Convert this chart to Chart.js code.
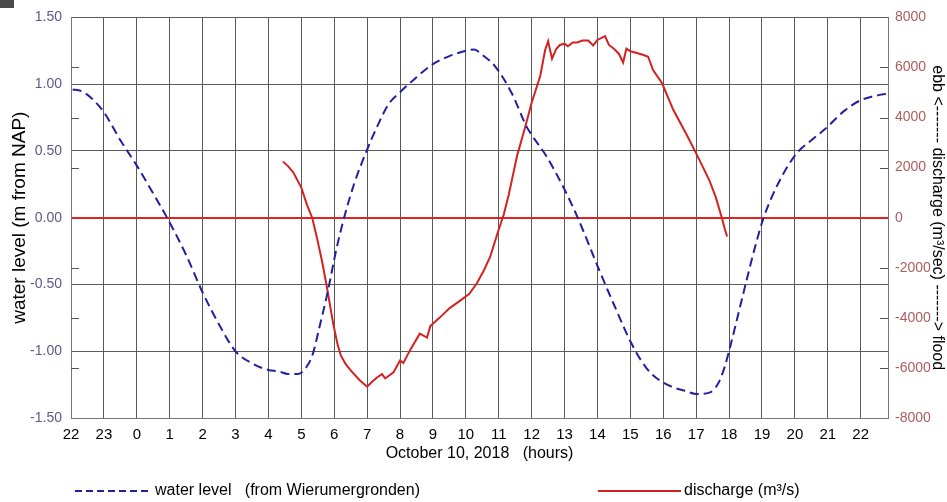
<!DOCTYPE html>
<html>
<head>
<meta charset="utf-8">
<script src="https://cdn.jsdelivr.net/npm/chart.js@4.4.1/dist/chart.umd.min.js"></script>
<style>
  html, body { margin: 0; padding: 0; background: #fff; }
  #wrap { position: relative; width: 947px; height: 502px; }
  #corner { position: absolute; left: 0; top: 0; width: 14px; height: 8px; background: #4a4a4a; }
</style>
</head>
<body>
<div id="wrap">
  <canvas id="c" width="947" height="502"></canvas>
  <div id="corner"></div>
</div>
<script>
// Water level at Wierumergronden (m from NAP), hours relative to 10 Oct 2018 00:00
const levelHours = [-1.95, -1.7, -1.4, -1.0, -0.5, 0.0, 0.5, 0.92, 1.5, 2.0, 2.5, 3.0, 3.5, 4.0, 4.3, 4.6, 4.9,
  5.15, 5.35, 5.55, 5.78, 6.08, 6.3, 6.6, 6.95, 7.3, 7.65, 8.0, 8.4, 9.0, 9.5, 10.0, 10.25, 10.5, 10.9,
  11.4, 11.85, 12.0, 12.45, 13.0, 13.4, 14.0, 14.5, 15.05, 15.5, 15.9, 16.3, 16.7, 17.0, 17.4, 17.65,
  17.85, 18.05, 18.5, 18.8, 19.05, 19.5, 20.05, 20.5, 20.9, 21.5, 22.0, 22.4, 22.83];
const levelValues = [0.96, 0.95, 0.90, 0.79, 0.58, 0.39, 0.18, 0.00, -0.28, -0.56, -0.80, -1.00, -1.09, -1.14, -1.15, -1.17, -1.17,
  -1.12, -1.02, -0.82, -0.58, -0.22, 0.00, 0.25, 0.48, 0.68, 0.85, 0.94, 1.03, 1.15, 1.21, 1.25, 1.26, 1.22, 1.13,
  0.93, 0.68, 0.62, 0.46, 0.21, 0.00, -0.36, -0.65, -0.95, -1.13, -1.22, -1.27, -1.30, -1.32, -1.31, -1.25,
  -1.13, -0.95, -0.50, -0.21, 0.00, 0.26, 0.48, 0.58, 0.66, 0.80, 0.88, 0.91, 0.93];

// Discharge (m3/s): positive = ebb, negative = flood
const flowHours = [4.44, 4.6, 4.75, 4.9, 5.0, 5.17, 5.33, 5.48, 5.63, 5.78, 5.97, 6.1, 6.2, 6.35, 6.5, 6.78,
  7.0, 7.15, 7.3, 7.45, 7.55, 7.8, 8.0, 8.1, 8.3, 8.6, 8.82, 8.92, 9.2, 9.5, 9.9, 10.1, 10.34, 10.55, 10.74,
  10.98, 11.15, 11.3, 11.56, 11.8, 12.0, 12.26, 12.41, 12.5, 12.62, 12.75, 12.86, 13.0, 13.1, 13.25, 13.38,
  13.55, 13.72, 13.87, 14.0, 14.23, 14.35, 14.5, 14.65, 14.78, 14.88, 15.0, 15.2, 15.4, 15.54, 15.69, 15.96,
  16.3, 16.72, 17.03, 17.25, 17.42, 17.6, 17.79, 17.87, 17.94];
const flowValues = [2250, 2050, 1820, 1450, 1200, 520, 0, -830, -1740, -2800, -4240, -5050, -5500, -5850, -6100, -6500,
  -6750, -6550, -6380, -6250, -6420, -6180, -5700, -5800, -5300, -4630, -4790, -4330, -4000, -3620, -3240, -3050, -2610, -2100, -1560,
  -550, 120, 900, 2490, 3600, 4590, 5660, 6700, 7050, 6350, 6750, 6900, 6950, 6850, 7000, 7000,
  7080, 7080, 6880, 7100, 7250, 6900, 6750, 6550, 6200, 6750, 6650, 6580, 6500, 6430, 5900, 5380,
  4320, 3290, 2490, 1900, 1430, 800, -50, -450, -750];

// Axis tick values
const levelTicks = [-1.5, -1.0, -0.5, 0.0, 0.5, 1.0, 1.5];
const flowTicks = [-8000, -6000, -4000, -2000, 0, 2000, 4000, 6000, 8000];

const FONT = "'Liberation Sans', Arial, sans-serif";
const BLUE = '#2020a0';
const RED = '#d42222';
const ZERO_RED = '#e42020';
const GRID = '#5a5a5a';

const levelData = levelHours.map((h, i) => ({ x: h, y: levelValues[i] }));
const flowData = flowHours.map((h, i) => ({ x: h, y: flowValues[i] }));

// Short inner ticks on both frame edges at the discharge tick values, plus the bottom legend
const frameExtras = {
  id: 'frameExtras',
  afterDraw(chart) {
    const { ctx, chartArea: a, scales } = chart;
    const y2 = scales.y2;
    ctx.save();
    ctx.strokeStyle = '#555';
    ctx.lineWidth = 1;
    flowTicks.forEach(v => {
      if (v === 0 || Math.abs(v) === 8000) return;
      const py = Math.round(y2.getPixelForValue(v)) + 0.5;
      ctx.beginPath();
      ctx.moveTo(a.left, py); ctx.lineTo(a.left + 8, py);
      ctx.moveTo(a.right - 8, py); ctx.lineTo(a.right, py);
      ctx.stroke();
    });

    const ly = 491;
    ctx.lineWidth = 2;
    ctx.strokeStyle = BLUE;
    ctx.setLineDash([7, 4]);
    ctx.beginPath(); ctx.moveTo(75, ly); ctx.lineTo(152, ly); ctx.stroke();
    ctx.setLineDash([]);
    ctx.strokeStyle = RED;
    ctx.beginPath(); ctx.moveTo(598, ly); ctx.lineTo(681, ly); ctx.stroke();

    ctx.fillStyle = '#000';
    ctx.font = '16px ' + FONT;
    ctx.textBaseline = 'middle';
    ctx.textAlign = 'left';
    ctx.fillText('water level   (from Wierumergronden)', 155, ly);
    ctx.fillText('discharge (m\u00b3/s)', 684, ly);
    ctx.restore();
  }
};

new Chart(document.getElementById('c'), {
  type: 'line',
  data: {
    datasets: [
      {
        label: 'water level (from Wierumergronden)',
        data: levelData,
        yAxisID: 'y',
        borderColor: BLUE,
        borderWidth: 2,
        borderDash: [9, 5],
        pointRadius: 0,
        cubicInterpolationMode: 'monotone',
        fill: false
      },
      {
        label: 'discharge (m\u00b3/s)',
        data: flowData,
        yAxisID: 'y2',
        borderColor: RED,
        borderWidth: 2,
        pointRadius: 0,
        tension: 0,
        fill: false
      }
    ]
  },
  options: {
    responsive: false,
    animation: false,
    events: [],
    layout: { padding: { top: 14, left: 0, right: 0, bottom: 0 } },
    plugins: { legend: { display: false }, tooltip: { enabled: false } },
    scales: {
      x: {
        type: 'linear',
        min: -2,
        max: 22.83,
        afterFit: s => { s.height = 84; },
        ticks: {
          stepSize: 1,
          includeBounds: false,
          autoSkip: false,
          maxRotation: 0,
          padding: 8,
          color: '#000',
          font: { family: FONT, size: 15 },
          callback: v => String((Math.round(v) + 24) % 24)
        },
        grid: { color: GRID, lineWidth: 1, drawTicks: false },
        border: { display: true, color: '#777' },
        title: {
          display: true,
          text: 'October 10, 2018   (hours)',
          color: '#000',
          font: { family: FONT, size: 16 },
          padding: { top: 0, bottom: 39 }
        }
      },
      y: {
        position: 'left',
        min: -1.5,
        max: 1.5,
        afterFit: s => { s.width = 71; },
        afterBuildTicks: s => { s.ticks = levelTicks.map(v => ({ value: v })); },
        ticks: {
          padding: 9,
          color: '#5a5a8c',
          font: { family: FONT, size: 14 },
          callback: v => Number(v).toFixed(2)
        },
        grid: {
          drawTicks: false,
          color: c => (c.tick && c.tick.value === 0 ? ZERO_RED : GRID),
          lineWidth: c => (c.tick && c.tick.value === 0 ? 2 : 1)
        },
        border: { display: true, color: '#777' },
        title: {
          display: true,
          text: 'water level (m from NAP)',
          color: '#000',
          font: { family: FONT, size: 19 },
          padding: { top: 8, bottom: 0 }
        }
      },
      y2: {
        position: 'right',
        min: -8000,
        max: 8000,
        afterFit: s => { s.width = 59; },
        afterBuildTicks: s => { s.ticks = flowTicks.map(v => ({ value: v })); },
        ticks: {
          padding: 7,
          color: '#b05c5c',
          font: { family: FONT, size: 14 },
          callback: v => String(v)
        },
        grid: { drawOnChartArea: false, drawTicks: false },
        border: { display: true, color: '#777' },
        title: {
          display: true,
          text: 'ebb <------- discharge (m\u00b3/sec) -------> flood',
          color: '#000',
          font: { family: FONT, size: 16 },
          padding: { top: 0, bottom: 0 }
        }
      }
    }
  },
  plugins: [frameExtras]
});
</script>
</body>
</html>
